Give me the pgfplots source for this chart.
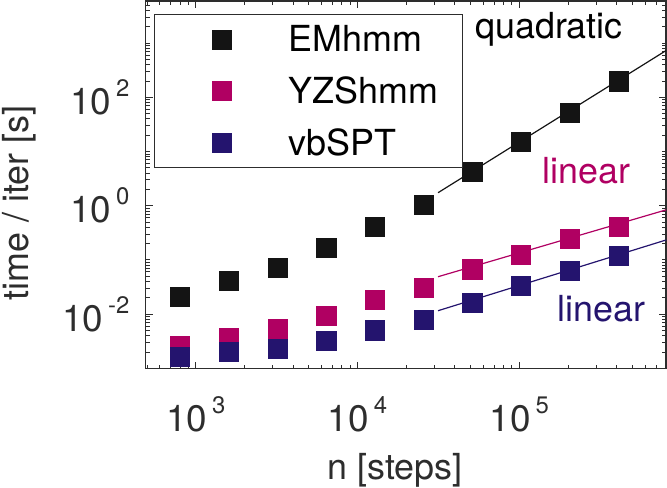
\documentclass[border=0pt]{standalone}
\usepackage{pgfplots}
\pgfplotsset{compat=1.18}
\usepackage{fontspec}
\setmainfont{TeX Gyre Heros}
\definecolor{emc}{RGB}{20,20,20}
\definecolor{yzc}{RGB}{176,0,98}
\definecolor{vbc}{RGB}{36,20,110}
\definecolor{axc}{RGB}{45,45,45}
\newcommand{\tl}[1]{10\hspace{5bp}\raisebox{18bp}{\fontsize{24}{24}\selectfont #1}}
\pgfplotsset{mylegimg/.style={legend image code/.code={%
  \path (0bp,0bp) (109bp,0bp);
  \draw[mark repeat=2,mark phase=2,##1] plot coordinates {(0bp,0bp)(44bp,0bp)(109bp,0bp)};}}}
\begin{document}
\begin{tikzpicture}
\begin{axis}[
  scale only axis, width=520.3bp, height=367.7bp,
  xmode=log, ymode=log,
  xmin=491, xmax=8.07e5, ymin=9.84e-4, ymax=5984,
  axis line style={axc, line width=1.2bp},
  tick style={axc, line width=0.9bp},
  tick align=inside,
  major tick length=7bp, minor tick length=4bp,
  xtick={1e3,1e4,1e5}, xticklabels={\tl{3},\tl{4},\tl{5}},
  ytick={1e-2,1,1e2}, yticklabels={\tl{-2},\tl{0},\tl{2}},
  minor xtick={500,600,700,800,900,2000,3000,4000,5000,6000,7000,8000,9000,20000,30000,40000,50000,60000,70000,80000,90000,200000,300000,400000,500000,600000,700000,800000},
  minor ytick={2e-3,3e-3,4e-3,5e-3,6e-3,7e-3,8e-3,9e-3,2e-2,3e-2,4e-2,5e-2,6e-2,7e-2,8e-2,9e-2,1e-1,2e-1,3e-1,4e-1,5e-1,6e-1,7e-1,8e-1,9e-1,2,3,4,5,6,7,8,9,10,20,30,40,50,60,70,80,90,200,300,400,500,600,700,800,900,1000,2000,3000,4000,5000},
  ticklabel style={font=\fontsize{37}{40}\selectfont, text=axc, inner sep=0pt},
  xticklabel style={anchor=north, yshift=-28bp},
  yticklabel style={anchor=east, xshift=-16bp},
  xlabel={n [steps]}, ylabel={time / iter [s]},
  label style={font=\fontsize{36}{40}\selectfont, text=axc},
  xlabel style={at={(axis description cs:0.4788,-0.2752)}, anchor=center},
  ylabel style={at={(axis description cs:-0.2435,0.4506)}, anchor=center},
  legend style={at={(axis description cs:0.01653,0.9638)}, anchor=north west,
    draw=axc, line width=1bp, inner xsep=22bp, inner ysep=9bp,
    font=\fontsize{36}{40}\selectfont, row sep=19.3bp},
  legend cell align=left,
  clip=false,
]
\addplot[emc, line width=1.2bp, forget plot] coordinates {(31477,1.738) (8.07e5,728)};
\addplot[yzc, line width=1.2bp, forget plot] coordinates {(31477,0.0490) (8.07e5,0.837)};
\addplot[vbc, line width=1.2bp, forget plot] coordinates {(31477,0.01156) (8.07e5,0.233)};

\addplot[only marks, mark=square*, mark size=9.6bp, mark options={emc, fill=emc, line width=0.3bp}, mylegimg] coordinates {
(800,0.0207) (1600,0.0410) (3200,0.0722) (6400,0.170) (12800,0.41) (25600,1.05) (51200,4.24) (102400,15.0) (204800,52.8) (409600,198)};
\addlegendentry{EMhmm}
\addplot[only marks, mark=square*, mark size=9.6bp, mark options={yzc, fill=yzc, line width=0.3bp}, mylegimg] coordinates {
(800,0.00258) (1600,0.00360) (3200,0.00531) (6400,0.0095) (12800,0.0187) (25600,0.0313) (51200,0.0675) (102400,0.126) (204800,0.245) (409600,0.417)};
\addlegendentry{YZShmm}
\addplot[only marks, mark=square*, mark size=9.6bp, mark options={vbc, fill=vbc, line width=0.3bp}, mylegimg] coordinates {
(800,0.00164) (1600,0.00201) (3200,0.00229) (6400,0.00322) (12800,0.00506) (25600,0.00789) (51200,0.0164) (102400,0.0333) (204800,0.0630) (409600,0.119)};
\addlegendentry{vbSPT}

\node[font=\fontsize{36}{40}\selectfont, anchor=center] at (axis description cs:0.7749,0.9233) {quadratic};
\node[font=\fontsize{36}{40}\selectfont, text=yzc, anchor=base] at (axis description cs:0.8468,0.5042) {linear};
\node[font=\fontsize{36}{40}\selectfont, text=vbc, anchor=base] at (axis description cs:0.8764,0.1278) {linear};
\coordinate (SW) at (rel axis cs:0,0);
\coordinate (NE) at (rel axis cs:1,1);
\end{axis}
\pgfresetboundingbox
\path[use as bounding box] ([xshift=-145.7bp,yshift=-119.3bp]SW) rectangle ([xshift=1bp,yshift=1bp]NE);
\end{tikzpicture}
\end{document}
